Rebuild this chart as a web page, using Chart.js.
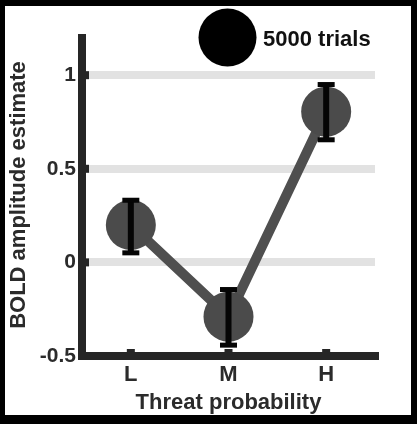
<!DOCTYPE html>
<html>
<head>
<meta charset="utf-8">
<script src="https://cdn.jsdelivr.net/npm/chart.js@4/dist/chart.umd.min.js"></script>
<style>
  html, body { margin: 0; padding: 0; background: #000; }
  body { width: 417px; height: 424px; position: relative; overflow: hidden; }
  #paper { position: absolute; left: 5px; top: 6px; width: 406px; height: 409px; background: #fff; }
  #chart { position: absolute; left: 0; top: 0; }
</style>
</head>
<body>
<div id="paper"></div>
<canvas id="chart" width="417" height="424"></canvas>
<script>
const categories = ["L", "M", "H"];
const xValues = [1, 2, 3];
const means = [0.2, -0.29, 0.805];
const upper = [0.332, -0.145, 0.95];
const lower = [0.051, -0.442, 0.655];
const yTicks = [-0.5, 0, 0.5, 1];
const legendLabel = "5000 trials";

const AXIS = "#262626";
const TEXT = "#2b2b2b";
const FONT = "'Liberation Sans', Arial, Helvetica, sans-serif";

Chart.defaults.font.family = FONT;
Chart.defaults.font.weight = "bold";
Chart.defaults.color = TEXT;

// error bars, axis lines, inner tick stubs and the sample size legend
const extras = {
  id: "extras",
  afterDatasetsDraw(chart) {
    const ctx = chart.ctx;
    const xs = chart.scales.x;
    const ys = chart.scales.y;
    ctx.save();
    ctx.fillStyle = "#050505";
    xValues.forEach((v, i) => {
      const x = xs.getPixelForValue(v);
      const top = ys.getPixelForValue(upper[i]);
      const bot = ys.getPixelForValue(lower[i]);
      ctx.fillRect(x - 3, top, 6, bot - top);
      ctx.fillRect(x - 8.5, top - 2.5, 17, 5);
      ctx.fillRect(x - 8.5, bot - 2.5, 17, 5);
    });
    ctx.restore();
  },
  afterDraw(chart) {
    const ctx = chart.ctx;
    const a = chart.chartArea;
    const xs = chart.scales.x;
    const ys = chart.scales.y;
    ctx.save();
    ctx.strokeStyle = AXIS;
    ctx.lineWidth = 8;
    ctx.beginPath();
    ctx.moveTo(a.left, a.top);
    ctx.lineTo(a.left, a.bottom + 4);
    ctx.moveTo(a.left - 4, a.bottom);
    ctx.lineTo(a.right + 4, a.bottom);
    ctx.stroke();

    ctx.fillStyle = AXIS;
    ys.ticks.forEach((t) => {
      if (t.value <= ys.min) return;
      const y = ys.getPixelForValue(t.value);
      ctx.fillRect(a.left + 4, y - 4, 3, 8);
    });
    xs.ticks.forEach((t) => {
      const x = xs.getPixelForValue(t.value);
      ctx.fillRect(x - 4, a.bottom - 7, 8, 3);
    });

    ctx.fillStyle = "#000";
    ctx.beginPath();
    ctx.arc(227.5, 37.5, 29, 0, Math.PI * 2);
    ctx.fill();
    ctx.fillStyle = "#111";
    ctx.font = "bold 22px " + FONT;
    ctx.textBaseline = "middle";
    ctx.textAlign = "left";
    ctx.fillText(legendLabel, 263, 39.5);
    ctx.restore();
  },
};

new Chart(document.getElementById("chart"), {
  type: "line",
  data: {
    datasets: [
      {
        data: xValues.map((x, i) => ({ x, y: means[i] })),
        borderColor: "#4f4f4f",
        borderWidth: 10,
        pointRadius: 25,
        pointHoverRadius: 25,
        pointBorderWidth: 0,
        pointBackgroundColor: "#4b4b4b",
        tension: 0,
      },
    ],
  },
  options: {
    responsive: false,
    animation: false,
    events: [],
    layout: { padding: { left: 0, top: 34, right: 42, bottom: 0 } },
    plugins: { legend: { display: false }, tooltip: { enabled: false } },
    scales: {
      x: {
        type: "linear",
        min: 0.5,
        max: 3.5,
        afterBuildTicks: (s) => { s.ticks = xValues.map((v) => ({ value: v })); },
        afterFit: (s) => { s.height = 68; },
        grid: { display: false, drawTicks: false },
        border: { display: false },
        ticks: {
          padding: 6,
          font: { size: 22, weight: "bold" },
          color: TEXT,
          callback: (v) => categories[xValues.indexOf(v)],
        },
        title: {
          display: true,
          text: "Threat probability",
          font: { size: 22, weight: "bold" },
          color: TEXT,
          padding: { top: 0, bottom: 8 },
        },
      },
      y: {
        min: -0.5,
        max: 1.22,
        afterBuildTicks: (s) => { s.ticks = yTicks.map((v) => ({ value: v })); },
        afterFit: (s) => { s.width = 82; },
        grid: { color: "#e2e2e2", lineWidth: 8, drawTicks: false },
        border: { display: false },
        ticks: {
          padding: 6,
          font: { size: 21, weight: "bold" },
          color: TEXT,
          callback: (v) => String(v),
        },
        title: {
          display: true,
          text: "BOLD amplitude estimate",
          font: { size: 22, weight: "bold" },
          color: TEXT,
          padding: { top: 6, bottom: 0 },
        },
      },
    },
  },
  plugins: [extras],
});
</script>
</body>
</html>
